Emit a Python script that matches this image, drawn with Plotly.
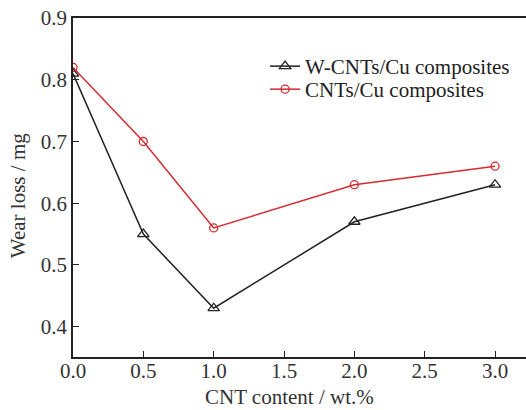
import plotly.graph_objects as go

cnt_content = [0.0, 0.5, 1.0, 2.0, 3.0]
w_cnts_cu = [0.81, 0.55, 0.43, 0.57, 0.63]
cnts_cu = [0.82, 0.70, 0.56, 0.63, 0.66]
x_ticks = [0.0, 0.5, 1.0, 1.5, 2.0, 2.5, 3.0]
x_tick_labels = ["0.0", "0.5", "1.0", "1.5", "2.0", "2.5", "3.0"]
y_ticks = [0.4, 0.5, 0.6, 0.7, 0.8, 0.9]
y_tick_labels = ["0.4", "0.5", "0.6", "0.7", "0.8", "0.9"]

font = "Liberation Serif, Times New Roman, serif"

fig = go.Figure()
fig.add_trace(go.Scatter(
    x=cnt_content, y=w_cnts_cu, mode="lines+markers", name="W-CNTs/Cu composites",
    line=dict(color="#222222", width=1.5), legend="legend",
    marker=dict(symbol="triangle-up-open", size=10, color="#222222", line=dict(width=1.3)),
))
fig.add_trace(go.Scatter(
    x=cnt_content, y=cnts_cu, mode="lines+markers", name="CNTs/Cu composites",
    line=dict(color="#d42a30", width=1.5), legend="legend2",
    marker=dict(symbol="circle-open", size=8, color="#d42a30", line=dict(width=1.3)),
))

axis_common = dict(
    showline=True, linecolor="#222222", linewidth=1.5,
    ticks="inside", ticklen=6, tickwidth=1.3, tickcolor="#222222",
    showgrid=False, zeroline=False,
    tickfont=dict(family=font, size=21, color="#333333"),
)

legend_common = dict(xanchor="left", yanchor="middle", bgcolor="rgba(0,0,0,0)",
                     font=dict(family=font, size=21, color="#222222"), itemwidth=30)

fig.update_layout(
    width=526, height=410,
    margin=dict(l=73, r=0, t=18, b=53),
    paper_bgcolor="white", plot_bgcolor="white",
    font=dict(family=font, color="#333333"),
    xaxis=dict(range=[0, 3.22], tickvals=x_ticks, ticktext=x_tick_labels, mirror=True,
               ticklabelstandoff=-6, **axis_common),
    yaxis=dict(range=[0.351, 0.9], tickvals=y_ticks, ticktext=y_tick_labels, mirror=False,
               **axis_common),
    legend=dict(x=0.424, y=0.857, **legend_common),
    legend2=dict(x=0.424, y=0.789, **legend_common),
    showlegend=True,
    annotations=[
        dict(text="CNT content / wt.%", x=0.479, y=-0.118, xref="paper", yref="paper",
             xanchor="center", yanchor="middle", showarrow=False,
             font=dict(family=font, size=21, color="#333333")),
        dict(text="Wear loss / mg", x=-0.121, y=0.475, xref="paper", yref="paper",
             xanchor="center", yanchor="middle", showarrow=False, textangle=-90,
             font=dict(family=font, size=21, color="#333333")),
    ],
)

fig.write_html("out.html", config={"displayModeBar": False},
               post_script="document.body.style.margin='0';document.body.style.overflow='hidden';")
